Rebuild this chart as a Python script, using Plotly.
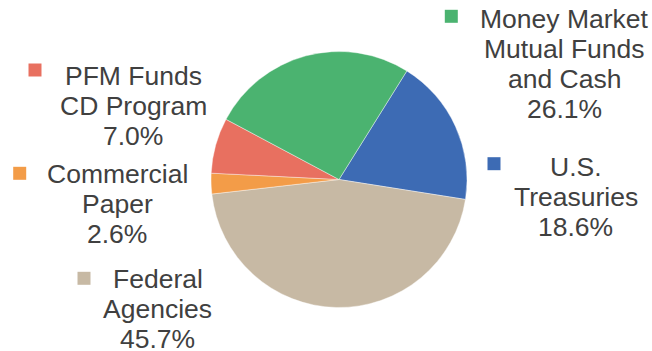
import plotly.graph_objects as go

# Portfolio composition
categories = [
    "U.S.\nTreasuries",
    "Federal\nAgencies",
    "Commercial\nPaper",
    "PFM Funds\nCD Program",
    "Money Market\nMutual Funds\nand Cash",
]
shares = [18.6, 45.7, 2.6, 7.0, 26.1]
colors = ["#3d6bb4", "#c7b9a4", "#f39c48", "#e87060", "#4bb370"]

W, H = 652, 351
FONT = "Liberation Sans, Arial, sans-serif"
FS = 26.5
LINE = 30
TEXT_COLOR = "#404040"

# Label placement in pixels: marker centre, text centre x, first baseline y
label_layout = [
    dict(mx=494.0, my=163.7, tx=575.5, by=176.7),
    dict(mx=84.0, my=278.3, tx=157.8, by=288.3),
    dict(mx=19.7, my=173.3, tx=117.0, by=183.3),
    dict(mx=35.0, my=70.0, tx=133.2, by=85.0),
    dict(mx=451.3, my=16.3, tx=564.5, by=28.3),
]

# Pie geometry (pixels)
cx, cy, r = 339.0, 179.5, 128.0

fig = go.Figure()

fig.add_trace(go.Pie(
    labels=[c.replace("\n", " ") for c in categories],
    values=shares,
    marker=dict(colors=colors, line=dict(color="white", width=0.4)),
    sort=False,
    direction="clockwise",
    rotation=32,
    textinfo="none",
    hoverinfo="label+percent",
    showlegend=False,
    domain=dict(x=[(cx - r) / W, (cx + r) / W],
                y=[(H - cy - r) / H, (H - cy + r) / H]),
))

# Square markers for each category
fig.add_trace(go.Scatter(
    x=[p["mx"] for p in label_layout],
    y=[p["my"] for p in label_layout],
    mode="markers",
    marker=dict(symbol="square", size=13, color=colors, line=dict(width=0)),
    hoverinfo="skip",
    showlegend=False,
    xaxis="x", yaxis="y",
))

# Category name lines plus percentage
for name, val, p in zip(categories, shares, label_layout):
    lines = name.split("\n") + [f"{val:.1f}%"]
    for i, line in enumerate(lines):
        baseline = p["by"] + i * LINE
        fig.add_annotation(
            x=p["tx"], y=baseline - 0.35 * FS,
            xref="x", yref="y",
            text=line, showarrow=False,
            xanchor="center", yanchor="middle",
            font=dict(family=FONT, size=FS, color=TEXT_COLOR),
        )

fig.update_layout(
    width=W, height=H,
    margin=dict(l=0, r=0, t=0, b=0),
    paper_bgcolor="white",
    plot_bgcolor="rgba(0,0,0,0)",
    xaxis=dict(range=[0, W], visible=False, fixedrange=True, domain=[0, 1]),
    yaxis=dict(range=[H, 0], visible=False, fixedrange=True, domain=[0, 1]),
)

fig.write_html("out.html")
